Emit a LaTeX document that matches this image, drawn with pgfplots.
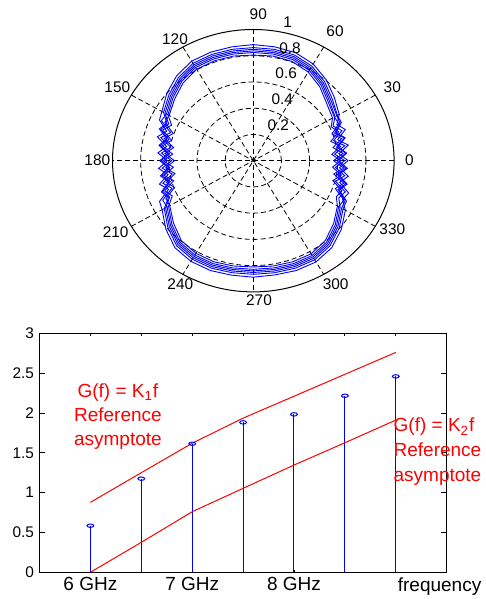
\documentclass[border=0pt]{standalone}
\usepackage{fontspec}
\setmainfont{Liberation Sans}
\usepackage{pgfplots}
\pgfplotsset{compat=1.18}
\usepackage{pgfplotstable}
\usepgfplotslibrary{polar}

\pgfplotstableread{
a r1 r2 r3 r4 r5 r6
0 0.62 0.57 0.65 0.593 0.607 0.674
5 0.56 0.64 0.58 0.66 0.665 0.61
10 0.63 0.575 0.66 0.60 0.61 0.685
15 0.57 0.65 0.59 0.67 0.675 0.62
20 0.645 0.595 0.67 0.615 0.625 0.695
25 0.61 0.67 0.625 0.68 0.69 0.655
30 0.65 0.665 0.67 0.685 0.69 0.705
40 0.68 0.695 0.707 0.719 0.732 0.751
50 0.735 0.75 0.762 0.774 0.787 0.806
60 0.78 0.795 0.807 0.819 0.832 0.851
70 0.805 0.82 0.832 0.844 0.857 0.876
80 0.81 0.825 0.837 0.849 0.862 0.881
90 0.805 0.825 0.837 0.849 0.862 0.885
100 0.81 0.825 0.837 0.849 0.862 0.881
110 0.81 0.825 0.837 0.849 0.862 0.881
120 0.805 0.82 0.832 0.844 0.857 0.876
130 0.775 0.79 0.802 0.814 0.827 0.846
140 0.73 0.745 0.757 0.769 0.782 0.801
150 0.69 0.70 0.712 0.724 0.736 0.75
155 0.693 0.64 0.72 0.663 0.677 0.735
160 0.605 0.685 0.625 0.70 0.71 0.655
165 0.655 0.60 0.68 0.62 0.635 0.705
170 0.575 0.655 0.595 0.67 0.68 0.625
175 0.63 0.575 0.655 0.60 0.61 0.68
180 0.56 0.64 0.58 0.655 0.665 0.61
185 0.625 0.57 0.65 0.595 0.605 0.675
190 0.565 0.645 0.585 0.66 0.67 0.615
195 0.64 0.585 0.665 0.61 0.62 0.69
200 0.595 0.67 0.615 0.685 0.695 0.64
205 0.685 0.635 0.71 0.655 0.665 0.735
210 0.685 0.695 0.707 0.719 0.73 0.748
220 0.74 0.755 0.767 0.779 0.792 0.811
230 0.795 0.81 0.822 0.834 0.847 0.866
240 0.815 0.83 0.842 0.854 0.867 0.886
250 0.82 0.835 0.847 0.859 0.872 0.891
260 0.815 0.83 0.842 0.854 0.867 0.886
270 0.81 0.828 0.84 0.852 0.866 0.888
280 0.815 0.83 0.842 0.854 0.867 0.884
290 0.82 0.835 0.847 0.859 0.872 0.891
300 0.82 0.835 0.847 0.859 0.872 0.891
310 0.795 0.81 0.822 0.834 0.847 0.866
320 0.745 0.76 0.772 0.784 0.797 0.816
330 0.69 0.70 0.712 0.724 0.736 0.755
335 0.65 0.71 0.67 0.72 0.73 0.70
340 0.67 0.62 0.695 0.64 0.65 0.72
345 0.585 0.665 0.605 0.68 0.69 0.635
350 0.635 0.58 0.66 0.605 0.615 0.685
355 0.565 0.645 0.585 0.66 0.67 0.615
360 0.62 0.57 0.65 0.593 0.607 0.674
}\polardata

\pgfplotstableread{
x y
1 0.585
2 1.175
3 1.614
4 1.882
5 1.982
6 2.216
7 2.459
}\stems

\tikzset{pgrid/.style={black, line width=0.4pt, dash pattern=on 2.5pt off 1.5pt}}

\begin{document}
\begin{tikzpicture}
\useasboundingbox (0pt,0pt) rectangle (243pt,299.5pt);
\begin{axis}[
  at={(126.65pt,219.15pt)}, anchor=center,
  scale only axis, width=140.8pt, height=131.2pt,
  xmin=-1, xmax=1, ymin=-1, ymax=1,
  hide axis, clip=false,
]
\draw[pgrid] (axis cs:0,0) circle [radius=0.2];
\draw[pgrid] (axis cs:0,0) circle [radius=0.4];
\draw[pgrid] (axis cs:0,0) circle [radius=0.6];
\draw[pgrid] (axis cs:0,0) circle [radius=0.8];
\draw[pgrid] (axis cs:1,0) -- (axis cs:-1,0);
\draw[pgrid] (axis cs:0.866,0.5) -- (axis cs:-0.866,-0.5);
\draw[pgrid] (axis cs:0.5,0.866) -- (axis cs:-0.5,-0.866);
\draw[pgrid] (axis cs:0,1) -- (axis cs:0,-1);
\draw[pgrid] (axis cs:-0.5,0.866) -- (axis cs:0.5,-0.866);
\draw[pgrid] (axis cs:-0.866,0.5) -- (axis cs:0.866,-0.5);
\draw[black, line width=0.5pt] (axis cs:0,0) circle [radius=1];
\foreach \c in {r1,r2,r3,r4,r5,r6}{
  \addplot[blue, line width=0.45pt, no markers] table[x=a, y=\c, data cs=polar] {\polardata};
}
\coordinate (pc) at (axis cs:0,0);
\node[anchor=south west, inner sep=0pt, xshift=5pt, yshift=1.6pt, font=\fontsize{7.7}{8}\selectfont] at (axis cs:0.0278,0.1981) {0.2};
\node[anchor=south west, inner sep=0pt, xshift=5pt, yshift=1.6pt, font=\fontsize{7.7}{8}\selectfont] at (axis cs:0.0557,0.3961) {0.4};
\node[anchor=south west, inner sep=0pt, xshift=5pt, yshift=1.6pt, font=\fontsize{7.7}{8}\selectfont] at (axis cs:0.0835,0.5942) {0.6};
\node[anchor=south west, inner sep=0pt, xshift=5pt, yshift=1.6pt, font=\fontsize{7.7}{8}\selectfont] at (axis cs:0.1113,0.7922) {0.8};
\node[anchor=south west, inner sep=0pt, xshift=5pt, yshift=1.6pt, font=\fontsize{7.7}{8}\selectfont] at (axis cs:0.1392,0.9903) {1};
\end{axis}
\foreach \a/\dx/\dy in {0/78/0, 30/69.5/36.7, 60/40.85/64.5, 90/2.5/73.35, 120/-39.15/60.85, 150/-68/36.7, 180/-78/0, 210/-68.8/-35.8, 240/-36.5/-61.65, 270/2.85/-70, 300/41.2/-61.65, 330/69.5/-34.3}
  \node[font=\fontsize{7.7}{8}\selectfont, inner sep=0pt] at ([shift={(\dx pt,\dy pt)}]pc) {\a};

\begin{axis}[
  at={(19.75pt,13.35pt)}, anchor=south west,
  scale only axis, width=203.6pt, height=119.5pt,
  xmin=0, xmax=8, ymin=0, ymax=3,
  xtick={1,...,7}, xticklabels={6 GHz,,7 GHz,,8 GHz,,},
  ytick={0,0.5,...,3},
  tick align=inside,
  major tick length=3pt,
  xtick style={/pgfplots/major tick length=1.3pt},
  tick style={black, line width=0.4pt},
  axis line style={black, line width=0.5pt},
  /pgf/number format/assume math mode=true,
  yticklabel style={font=\fontsize{7.7}{8}\selectfont, xshift=0.8pt},
  xticklabel style={font=\fontsize{9.5}{11}\selectfont, yshift=1pt},
  clip=false,
]
\addplot[blue, ycomb, line width=0.5pt, mark=o, mark size=1.7pt, mark options={yscale=0.5, solid}] table[x=x, y=y] {\stems};
\addplot[red, line width=0.5pt] coordinates {(1,0.878) (2,1.25) (3,1.62) (4,1.935) (5,2.21) (6,2.485) (7,2.76)};
\addplot[red, line width=0.5pt] coordinates {(1,0) (2,0.376) (3,0.76) (4,1.054) (5,1.346) (6,1.626) (7,1.91)};
\node[red, align=center, font=\fontsize{9.5}{12}\selectfont] at (axis cs:1.54,1.95) {G(f) = K\textsubscript{1}f\\Reference\\asymptote};
\node[red, align=left, anchor=west, inner sep=0pt, font=\fontsize{9.5}{12.5}\selectfont] at (axis cs:6.95,1.51) {G(f) = K\textsubscript{2}f\\Reference\\asymptote};
\node[anchor=north west, font=\fontsize{9.5}{11}\selectfont, yshift=1pt, xshift=-3pt] at (axis cs:7.02,0) {frequency};
\end{axis}
\end{tikzpicture}
\end{document}
